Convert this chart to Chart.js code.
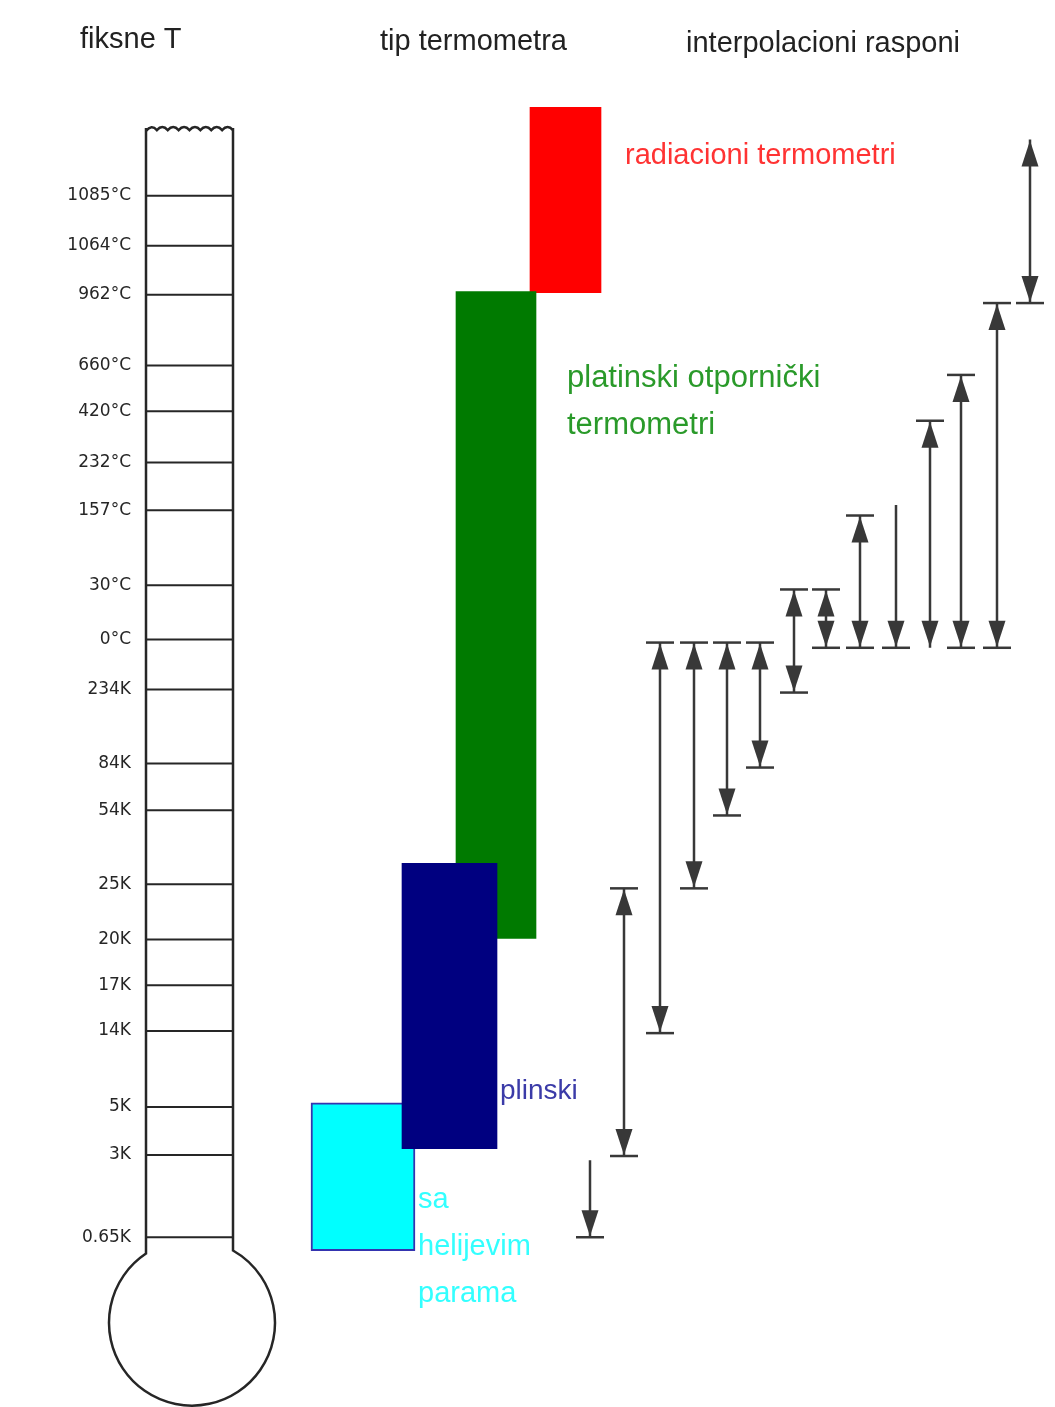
<!DOCTYPE html>
<html>
<head>
<meta charset="utf-8">
<script src="https://cdn.jsdelivr.net/npm/chart.js@4.4.1/dist/chart.umd.min.js"></script>
<style>
  html, body { margin: 0; padding: 0; background: #fff; }
  #chart { display: block; }
</style>
</head>
<body>
<canvas id="chart" width="1055" height="1407"></canvas>
<script>
// fixed points, top to bottom
const fixedLabels = ["1085°C", "1064°C", "962°C", "660°C", "420°C", "232°C", "157°C", "30°C", "0°C",
  "234K", "84K", "54K", "25K", "20K", "17K", "14K", "5K", "3K", "0.65K"];
// where each fixed point sits on the diagram scale (0.65K = 0, 1085°C = 100)
const fixedLevels = [100, 95.2, 90.5, 83.7, 79.3, 74.4, 69.8, 62.6, 57.4,
  52.6, 45.5, 41.0, 33.9, 28.6, 24.2, 19.8, 12.5, 7.9, 0];

// thermometer types (floating bars, [bottom, top] on the same scale)
const typeNames = ["plinski", "sa helijevim parama", "platinski otpornički termometri", "radiacioni termometri"];
const typeColumn = [449.5, 363, 496, 565.5];
const typeRanges = [[8.5, 35.9], [-1.3, 12.9], [28.7, 90.8], [90.7, 108.5]];
const typeLines = [["plinski"], ["sa", "helijevim", "parama"], ["platinski otpornički", "termometri"], ["radiacioni termometri"]];

// interpolation ranges
const rangeColumn = [590, 624, 660, 694, 727, 760, 794, 826, 860, 896, 930, 961, 997, 1030];
const rangeTop = [7.4, 33.5, 57.1, 57.1, 57.1, 57.1, 62.2, 62.2, 69.3, 70.3, 78.4, 82.8, 89.7, 105.4];
const rangeBottom = [0, 7.8, 19.6, 33.5, 40.5, 45.1, 52.3, 56.6, 56.6, 56.6, 56.6, 56.6, 56.6, 89.7];
const rangeTopCap = [false, true, true, true, true, true, true, true, true, false, true, true, true, false];
const rangeTopHead = [false, true, true, true, true, true, true, true, true, false, true, true, true, true];
const rangeBottomCap = [true, true, true, true, true, true, true, true, true, true, false, true, true, true];

const headers = ["fiksne T", "tip termometra", "interpolacioni rasponi"];

// styling
const barColors = ["#000080", "#00ffff", "#007a00", "#ff0000"];
const barWidths = [95, 104, 80, 71];
const labelColors = ["#3b3ba8", "#33ffff", "#2a9a2a", "#ff3333"];
const labelOffsets = [3, 3, 31, 24];
const labelFonts = [28, 29, 31, 29];
const labelTopLevel = [14.1, 3.7, 82.6, 103.9];
const lineGap = 47;
const ink = "#262626";
const arrowInk = "#383838";

const thermometer = {
  id: "thermometer",
  beforeDatasetsDraw(chart) {
    const { ctx, scales: { y } } = chart;
    const left = 146, right = 233;
    const top = y.getPixelForValue(106.5);
    const cx = 192, cy = y.getPixelForValue(-8.2), r = 83;
    const dyR = Math.sqrt(r * r - (right - cx) ** 2);
    const dyL = Math.sqrt(r * r - (cx - left) ** 2);

    ctx.save();
    ctx.strokeStyle = ink;
    ctx.lineWidth = 2.5;
    ctx.beginPath();
    // wavy top
    const waves = 8, step = (right - left) / waves;
    ctx.moveTo(left, top + 3);
    for (let i = 0; i < waves; i++) {
      const x0 = left + i * step;
      ctx.quadraticCurveTo(x0 + step / 2, top - 4, x0 + step, top + 2);
    }
    ctx.stroke();

    ctx.beginPath();
    ctx.moveTo(left, top);
    ctx.lineTo(left, cy - dyL);
    ctx.arc(cx, cy, r, Math.atan2(-dyL, left - cx), Math.atan2(-dyR, right - cx), true);
    ctx.lineTo(right, top);
    ctx.stroke();

    // fixed point ticks and labels
    ctx.lineWidth = 2;
    ctx.fillStyle = ink;
    ctx.font = '17px "DejaVu Sans", sans-serif';
    ctx.textAlign = "right";
    ctx.textBaseline = "middle";
    fixedLevels.forEach((lvl, i) => {
      const py = y.getPixelForValue(lvl);
      ctx.beginPath();
      ctx.moveTo(left, py);
      ctx.lineTo(right, py);
      ctx.stroke();
      ctx.fillText(fixedLabels[i], 131, py);
    });

    // column headers
    ctx.font = '29px "Liberation Sans", Arial, sans-serif';
    ctx.textAlign = "left";
    ctx.textBaseline = "alphabetic";
    ctx.fillStyle = "#222";
    ctx.fillText(headers[0], 80, 48);
    ctx.fillText(headers[1], 380, 50);
    ctx.fillText(headers[2], 686, 52);
    ctx.restore();
  },
  afterDatasetsDraw(chart) {
    const { ctx, scales: { x, y } } = chart;
    ctx.save();
    // type labels next to the bars
    ctx.textAlign = "left";
    ctx.textBaseline = "middle";
    typeLines.forEach((lines, i) => {
      const px = x.getPixelForValue(typeColumn[i]) + barWidths[i] / 2 + labelOffsets[i];
      const py = y.getPixelForValue(labelTopLevel[i]);
      ctx.fillStyle = labelColors[i];
      ctx.font = labelFonts[i] + 'px "Liberation Sans", Arial, sans-serif';
      lines.forEach((t, j) => ctx.fillText(t, px, py + j * lineGap + 1));
    });

    // arrow heads and end caps
    ctx.fillStyle = arrowInk;
    ctx.strokeStyle = arrowInk;
    ctx.lineWidth = 2.5;
    const hw = 8.5, hh = 27, cap = 14;
    chart.data.datasets.forEach((ds, di) => {
      if (ds.rangeIndex === undefined) return;
      const k = ds.rangeIndex;
      const pts = chart.getDatasetMeta(di).data;
      const px = pts[0].x, pt = pts[0].y, pb = pts[1].y;
      if (rangeTopCap[k]) {
        ctx.beginPath(); ctx.moveTo(px - cap, pt); ctx.lineTo(px + cap, pt); ctx.stroke();
      }
      if (rangeBottomCap[k]) {
        ctx.beginPath(); ctx.moveTo(px - cap, pb); ctx.lineTo(px + cap, pb); ctx.stroke();
      }
      if (rangeTopHead[k]) {
        ctx.beginPath();
        ctx.moveTo(px, pt + 1);
        ctx.lineTo(px - hw, pt + hh);
        ctx.lineTo(px + hw, pt + hh);
        ctx.closePath();
        ctx.fill();
      }
      ctx.beginPath();
      ctx.moveTo(px, pb - 1);
      ctx.lineTo(px - hw, pb - hh);
      ctx.lineTo(px + hw, pb - hh);
      ctx.closePath();
      ctx.fill();
    });
    ctx.restore();
  }
};

const datasets = typeNames.map((name, i) => ({
  type: "bar",
  label: name,
  data: [{ x: typeColumn[i], y: typeRanges[i] }],
  backgroundColor: barColors[i],
  borderColor: i === 1 ? "#3434b0" : barColors[i],
  borderWidth: i === 1 ? 2 : 0,
  borderSkipped: false,
  barThickness: barWidths[i],
  grouped: false
}));

rangeColumn.forEach((col, k) => {
  datasets.push({
    type: "line",
    label: "raspon " + (k + 1),
    rangeIndex: k,
    data: [{ x: col, y: rangeTop[k] }, { x: col, y: rangeBottom[k] }],
    borderColor: arrowInk,
    borderWidth: 2.5,
    pointRadius: 0,
    fill: false
  });
});

new Chart(document.getElementById("chart"), {
  type: "bar",
  data: { datasets },
  options: {
    responsive: false,
    animation: false,
    layout: { padding: 0 },
    plugins: { legend: { display: false }, tooltip: { enabled: false } },
    scales: {
      x: { type: "linear", min: 0, max: 1055, offset: false, display: false },
      y: { type: "linear", min: -16.3, max: 118.8, display: false }
    }
  },
  plugins: [thermometer]
});
</script>
</body>
</html>
